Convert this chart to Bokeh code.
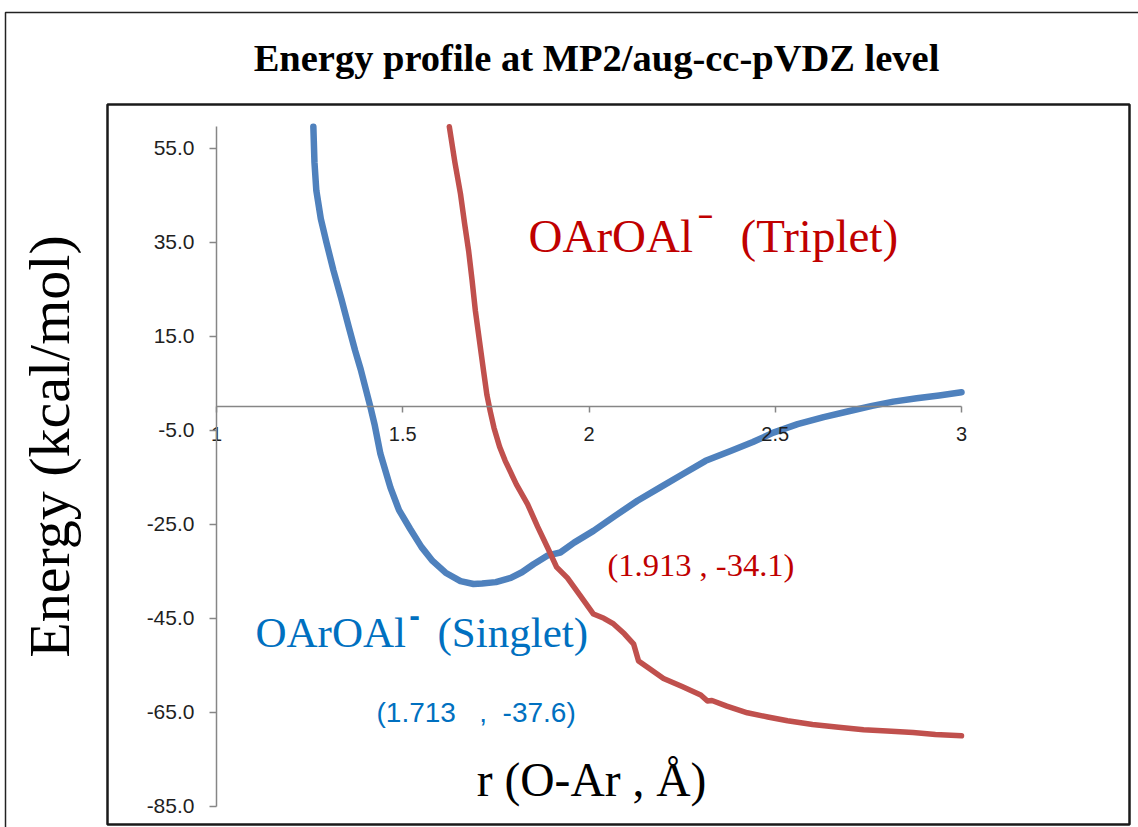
from bokeh.plotting import figure
from bokeh.models import Range1d, FixedTicker, PrintfTickFormatter, BoxAnnotation
from bokeh.core.properties import value
from bokeh.embed import file_html
from bokeh.resources import INLINE
import math

# ---------------- data ----------------
singlet_r = [1.260, 1.263, 1.268, 1.280, 1.295, 1.314, 1.335, 1.355, 1.372, 1.387,
             1.400, 1.413, 1.425, 1.440, 1.467, 1.490, 1.520, 1.550, 1.580, 1.615,
             1.655, 1.690, 1.713, 1.750, 1.790, 1.820, 1.851, 1.890, 1.923, 1.960,
             2.012, 2.070, 2.130, 2.190, 2.250, 2.313, 2.380, 2.440, 2.495, 2.560,
             2.630, 2.700, 2.760, 2.817, 2.880, 2.940, 3.000]
singlet_e = [59.6, 52.0, 46.0, 40.0, 35.0, 29.0, 23.0, 17.0, 12.0, 8.0,
             4.0, 0.0, -4.0, -10.0, -17.2, -22.0, -26.0, -29.8, -32.8, -35.3,
             -37.1, -37.7, -37.6, -37.3, -36.4, -35.2, -33.5, -31.6, -31.0, -28.9,
             -26.4, -23.2, -20.0, -17.2, -14.4, -11.5, -9.4, -7.5, -5.5, -3.7,
             -2.2, -0.9, 0.2, 1.1, 1.8, 2.4, 3.1]

triplet_r = [1.625, 1.640, 1.655, 1.666, 1.677, 1.686, 1.695, 1.706, 1.717, 1.726,
             1.735, 1.745, 1.760, 1.775, 1.805, 1.835, 1.862, 1.889, 1.913, 1.942,
             1.975, 2.012, 2.040, 2.066, 2.095, 2.120, 2.133, 2.160, 2.200, 2.250,
             2.300, 2.318, 2.330, 2.370, 2.425, 2.480, 2.533, 2.600, 2.670, 2.737,
             2.800, 2.870, 2.930, 3.000]
triplet_e = [59.6, 52.0, 45.3, 39.0, 33.1, 27.0, 20.4, 14.0, 7.6, 2.5,
             -1.0, -4.5, -8.5, -11.5, -16.5, -20.7, -25.5, -30.0, -34.1, -36.4,
             -40.0, -44.1, -45.0, -46.2, -48.3, -50.5, -54.1, -55.6, -57.8, -59.5,
             -61.3, -62.6, -62.5, -63.7, -65.1, -66.0, -66.8, -67.6, -68.2, -68.7,
             -69.0, -69.3, -69.7, -70.0]

x_ticks = [1, 1.5, 2, 2.5, 3]
x_tick_labels = ["1", "1.5", "2", "2.5", "3"]
y_ticks = [-85, -65, -45, -25, -5, 15, 35, 55]

NB = "\u00a0"
title_text = "Energy profile at MP2/aug-cc-pVDZ level"
x_label = "r (O-Ar , Å)"
y_label = "Energy (kcal/mol)"
species = "OArOAl"
triplet_tag = "(Triplet)"
singlet_tag = "(Singlet)"
triplet_point = "(1.913 , -34.1)"
singlet_point = "(1.713" + NB * 3 + "," + NB * 2 + "-37.6)"

# ---------------- layout helpers (pixel -> data) ----------------
W, H = 1138, 827
PX_X1, PX_PER_X = 216.0, 372.5   # pixel of r=1, pixels per unit r
PX_Y0, PX_PER_Y = 406.3, 4.7     # pixel of E=0, pixels per unit E
BL = 0.37                        # baseline correction (fraction of font size)

def X(px):
    return 1 + (px - PX_X1) / PX_PER_X

def Y(py):
    return (PX_Y0 - py) / PX_PER_Y

p = figure(width=W, height=H, output_backend="svg", toolbar_location=None,
           x_range=Range1d(X(0), X(W)), y_range=Range1d(Y(H), Y(0)),
           min_border=0, min_border_left=0, min_border_right=0,
           min_border_top=0, min_border_bottom=0)
p.outline_line_color = None
p.grid.visible = False
p.background_fill_color = "white"
p.border_fill_color = "white"

# frames
p.add_layout(BoxAnnotation(left=X(5), top=Y(12), right=X(1200), bottom=Y(900),
                           fill_alpha=0, line_color="#222222", line_alpha=1, line_width=1.5))
p.add_layout(BoxAnnotation(left=X(107), top=Y(104), right=X(1129), bottom=Y(824),
                           fill_alpha=0, line_color="#1a1a1a", line_alpha=1, line_width=2.5))

axis_col = "#868686"
tick_font = "Liberation Sans"

xa = p.xaxis[0]
xa.fixed_location = 0
xa.bounds = (1, 3)
xa.ticker = FixedTicker(ticks=x_ticks)
xa.minor_tick_line_color = None
xa.major_label_overrides = {t: s for t, s in zip(x_ticks, x_tick_labels)}
xa.axis_line_color = axis_col
xa.axis_line_width = 1.5
xa.major_tick_line_color = axis_col
xa.major_tick_line_width = 1.5
xa.major_tick_in = 0
xa.major_tick_out = 6
xa.major_label_standoff = 14
xa.major_label_text_font = tick_font
xa.major_label_text_font_size = "20px"
xa.major_label_text_color = "#1f1f1f"

ya = p.yaxis[0]
ya.fixed_location = 1
ya.bounds = (-85, 59.6)
ya.ticker = FixedTicker(ticks=y_ticks)
ya.formatter = PrintfTickFormatter(format="%.1f")
ya.minor_tick_line_color = None
ya.axis_line_color = axis_col
ya.axis_line_width = 1.5
ya.major_tick_line_color = axis_col
ya.major_tick_line_width = 1.5
ya.major_tick_in = 0
ya.major_tick_out = 7
ya.major_label_standoff = 15
ya.major_label_text_font = tick_font
ya.major_label_text_font_size = "21px"
ya.major_label_text_color = "#1f1f1f"

# curves
p.line(singlet_r, singlet_e, line_color="#4F81BD", line_width=6.5, line_join="round", line_cap="round")
p.line(triplet_r, triplet_e, line_color="#C0504D", line_width=5.5, line_join="round", line_cap="round")

serif = value("Liberation Serif")
sans = value("Liberation Sans")
red = "#C00000"
blue = "#0070C0"

def label(px, py, txt, size, color, font=serif, style="normal", align="left", angle=0.0):
    if angle:
        x_pos, y_pos = X(px - BL * size), Y(py)
    else:
        x_pos, y_pos = X(px), Y(py - BL * size)
    p.text(x=[x_pos], y=[y_pos], text=[txt], text_font=font, text_font_style=style,
           text_font_size=f"{size}px", text_align=align, text_baseline="alphabetic",
           text_color=color, angle=angle)

# title
label(596, 72, title_text, 38.5, "black", style="bold", align="center")
# axis titles
label(591, 797, x_label, 47.5, "black", align="center")
label(70, 446, y_label, 58, "black", align="center", angle=math.pi / 2)

# triplet label
label(528, 253, species, 47, red)
p.text(x=[X(705)], y=[Y(214.5)], text=["\u2013"], text_font=sans, text_font_style="bold",
       text_font_size="26px", text_align="center", text_baseline="middle", text_color=red)
label(740, 253, triplet_tag, 47, red)
label(607, 577, triplet_point, 32.5, red)

# singlet label
label(255, 648, species, 43, blue)
p.text(x=[X(414)], y=[Y(614)], text=["-"], text_font=sans, text_font_style="bold",
       text_font_size="32px", text_align="center", text_baseline="middle", text_color=blue)
label(437, 648, singlet_tag, 43, blue)
label(376, 722, singlet_point, 28, blue, font=sans)

open("out.html", "w").write(file_html(p, INLINE))
